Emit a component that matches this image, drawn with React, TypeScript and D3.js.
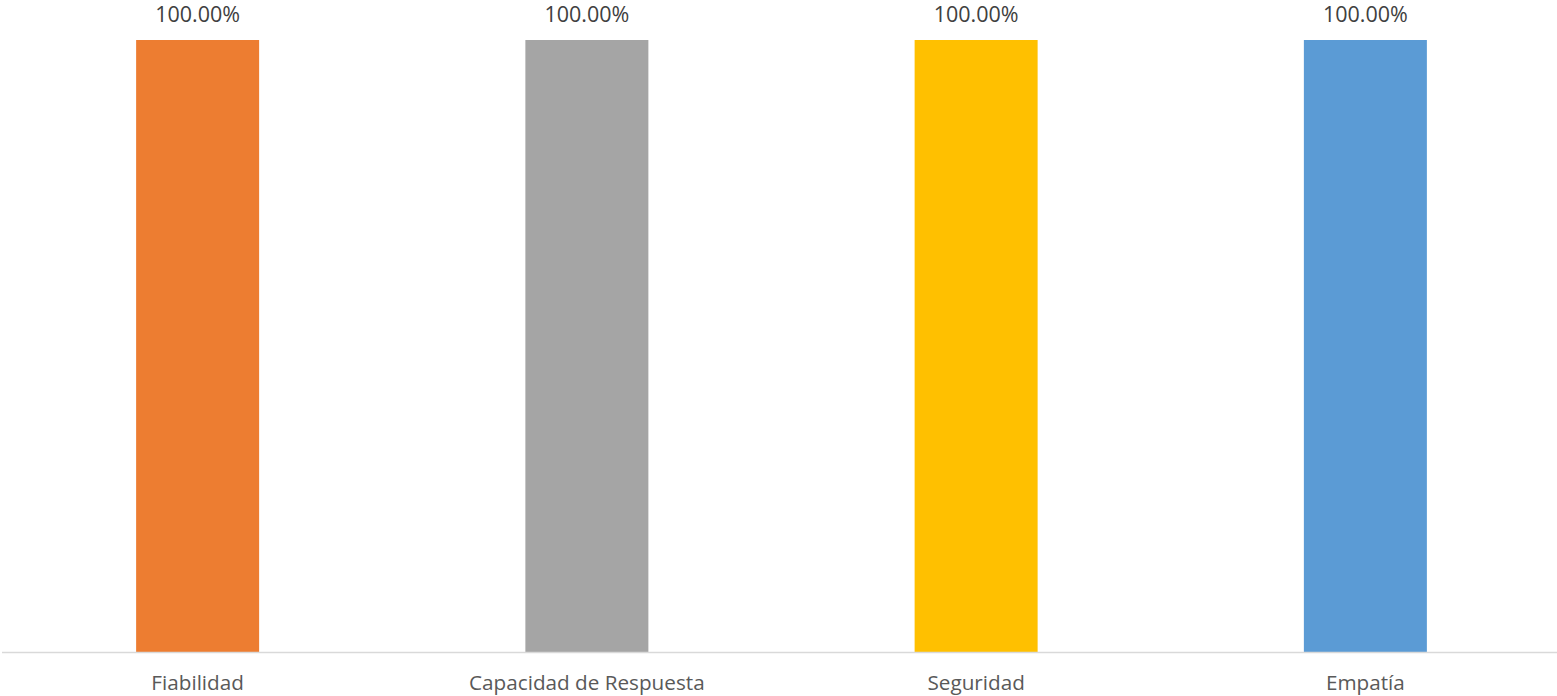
import React from "react";
import * as d3 from "d3";

const categories = ["Fiabilidad", "Capacidad de Respuesta", "Seguridad", "Empatía"];
const values = [1, 1, 1, 1];
const colors = ["#ED7D31", "#A5A5A5", "#FFC000", "#5B9BD5"];

const W = 1557;
const H = 696;

export default function App() {
  const x = d3.scaleBand<string>().domain(categories).range([3, 1560]).paddingInner(0.684).paddingOuter(0.342);
  const y = d3.scaleLinear().domain([0, 1]).range([652, 40]);
  const fmt = (v: number) => (v * 100).toFixed(2) + "%";
  const font = "'Open Sans', sans-serif";
  return (
    <svg width={W} height={H} style={{ position: "absolute", left: 0, top: 0, background: "#fff" }}>
      {categories.map((c, i) => (
        <g key={c}>
          <rect x={x(c)} y={y(values[i])} width={x.bandwidth()} height={y(0) - y(values[i])} fill={colors[i]} />
          <text x={(x(c) as number) + x.bandwidth() / 2} y={y(values[i]) - 18} textAnchor="middle" fontSize={21.5} fill="#404040" fontFamily={font}>
            {fmt(values[i])}
          </text>
          <text x={(x(c) as number) + x.bandwidth() / 2} y={690} textAnchor="middle" fontSize={20.7} fill="#595959" fontFamily={font}>
            {c}
          </text>
        </g>
      ))}
      <line x1={2} x2={W} y1={652.5} y2={652.5} stroke="#D9D9D9" strokeWidth={1.5} />
    </svg>
  );
}
